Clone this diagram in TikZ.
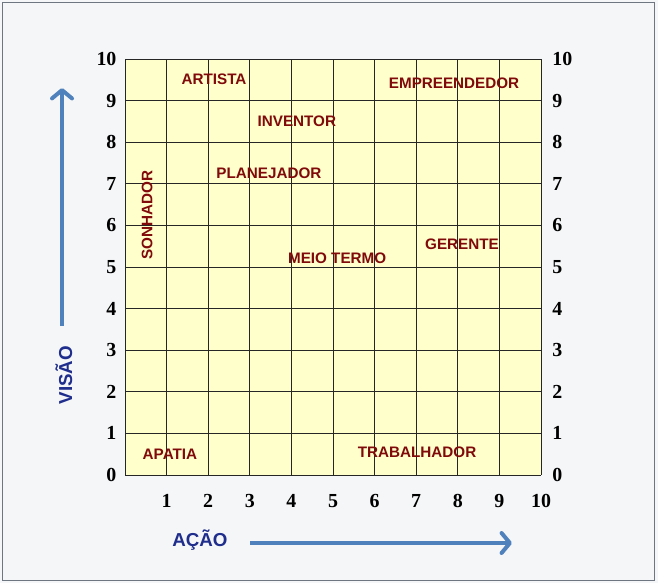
\documentclass[tikz,border=0pt]{standalone}
\usepackage{fontspec}
\setmainfont{Liberation Serif}
\newfontfamily\labelfont{Liberation Sans}
\usetikzlibrary{arrows.meta}

\definecolor{bgGray}{RGB}{245,246,248}
\definecolor{frameGray}{RGB}{110,118,130}
\definecolor{cellYellow}{RGB}{255,255,204}
\definecolor{roleRed}{RGB}{128,10,10}
\definecolor{arrowBlue}{RGB}{79,129,189}
\definecolor{axisBlue}{RGB}{31,45,140}

\begin{document}
\begin{tikzpicture}[
    x=1.248cm, y=1.248cm,
    role/.style={font=\labelfont\bfseries\fontsize{13}{13}\selectfont, text=roleRed, inner sep=0pt},
    tick/.style={font=\bfseries\fontsize{17}{17}\selectfont, inner sep=0pt},
    axisname/.style={font=\labelfont\bfseries\fontsize{16}{16}\selectfont, text=axisBlue, inner sep=0pt},
    axisarrow/.style={-{Straight Barb[length=2.5mm, width=6mm, round]}, line width=3.4pt, draw=arrowBlue}
]
    % Page background and frame
    \fill[bgGray] (-3.005,-2.596) rectangle (12.812,11.418);
    \useasboundingbox (-3.005,-2.596) rectangle (12.812,11.418);
    \draw[frameGray, line width=0.8pt] (-2.957,-2.524) rectangle (12.716,11.37);

    % Grid
    \fill[cellYellow] (0,0) rectangle (10,10);
    \draw[black!85, line width=0.8pt] (0,0) grid[step={(1,1)}] (10,10);

    % Scale numbers
    \foreach \i in {0,...,10} {
        \node[tick, anchor=east] (yl\i) at (-0.2,\i) {\i};
        \node[tick, anchor=west] (yr\i) at (10.27,\i) {\i};
    }
    \foreach \i in {1,...,10}
        \node[tick] (xl\i) at (\i,-0.62) {\i};

    % Profiles
    \node[role] (artista) at (2.14,9.52) {ARTISTA};
    \node[role] (empreendedor) at (7.91,9.42) {EMPREENDEDOR};
    \node[role] (inventor) at (4.13,8.51) {INVENTOR};
    \node[role] (planejador) at (3.46,7.26) {PLANEJADOR};
    \node[role, rotate=90] (sonhador) at (0.53,6.25) {SONHADOR};
    \node[role] (gerente) at (8.10,5.55) {GERENTE};
    \node[role] (meiotermo) at (5.10,5.22) {MEIO TERMO};
    \node[role] (apatia) at (1.08,0.50) {APATIA};
    \node[role] (trabalhador) at (7.02,0.55) {TRABALHADOR};

    % Axes
    \coordinate (vfrom) at (-1.514,3.58);
    \coordinate (vto) at (-1.514,9.30);
    \draw[axisarrow] (vfrom) -- (vto);
    \node[axisname, rotate=90] (visao) at (-1.47,2.40) {VISÃO};

    \coordinate (hfrom) at (3.005,-1.635);
    \coordinate (hto) at (9.30,-1.635);
    \draw[axisarrow] (hfrom) -- (hto);
    \node[axisname] (acao) at (1.80,-1.56) {AÇÃO};

\end{tikzpicture}
\end{document}
